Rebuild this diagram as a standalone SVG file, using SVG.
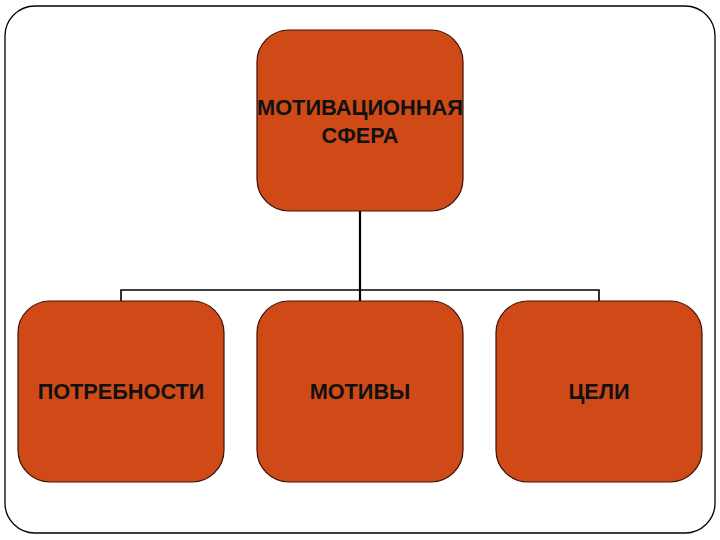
<svg xmlns="http://www.w3.org/2000/svg" width="720" height="540" viewBox="0 0 720 540">
<style>
.frame{fill:#fff;stroke:#000;stroke-width:1.3}
.node{fill:#D04A17;stroke:#3a1005;stroke-width:1.2}
.lbl{font-family:"Liberation Sans",Arial,sans-serif;font-weight:bold;font-size:21.7px;fill:#111;text-anchor:middle}
.conn{stroke:#000;fill:none}
</style>
<rect width="720" height="540" fill="#fff"/>
<rect class="frame" x="5" y="6" width="710" height="527" rx="30" ry="30"/>
<g id="connectors">
<line class="conn" x1="360" y1="211" x2="360" y2="301" stroke-width="2.2"/>
<polyline class="conn" points="121,301 121,290 599,290 599,301" stroke-width="1.6"/>
</g>
<g id="node-top">
<rect class="node" x="257" y="30" width="206" height="181" rx="32" ry="32"/>
<text class="lbl" x="360" y="115" textLength="206" lengthAdjust="spacingAndGlyphs">МОТИВАЦИОННАЯ</text>
<text class="lbl" x="360" y="143">СФЕРА</text>
</g>
<g id="node-needs">
<rect class="node" x="18" y="301" width="206" height="181" rx="32" ry="32"/>
<text class="lbl" x="121" y="399">ПОТРЕБНОСТИ</text>
</g>
<g id="node-motives">
<rect class="node" x="257" y="301" width="206" height="181" rx="32" ry="32"/>
<text class="lbl" x="360" y="399">МОТИВЫ</text>
</g>
<g id="node-goals">
<rect class="node" x="496" y="301" width="206" height="181" rx="32" ry="32"/>
<text class="lbl" x="599" y="399">ЦЕЛИ</text>
</g>
</svg>
